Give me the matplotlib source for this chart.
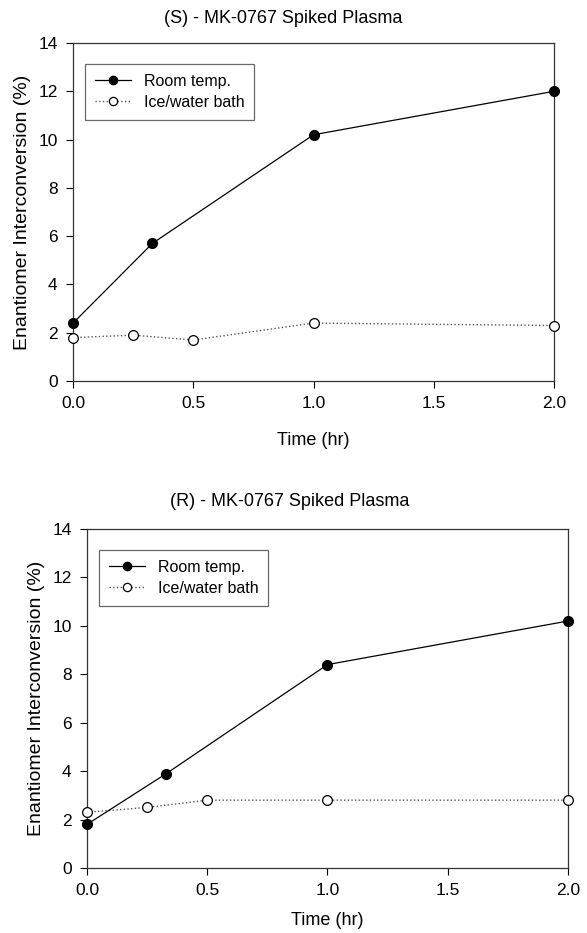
import matplotlib
matplotlib.use('Agg')
import matplotlib.pyplot as plt

plt.rcParams['font.family'] = ['Liberation Sans', 'DejaVu Sans']

# (S) panel
s_room_t = [0.0, 0.33, 1.0, 2.0]
s_room_v = [2.4, 5.7, 10.2, 12.0]
s_ice_t = [0.0, 0.25, 0.5, 1.0, 2.0]
s_ice_v = [1.8, 1.9, 1.7, 2.4, 2.3]

# (R) panel
r_room_t = [0.0, 0.33, 1.0, 2.0]
r_room_v = [1.8, 3.9, 8.4, 10.2]
r_ice_t = [0.0, 0.25, 0.5, 1.0, 2.0]
r_ice_v = [2.3, 2.5, 2.8, 2.8, 2.8]

xticks = [0.0, 0.5, 1.0, 1.5, 2.0]
yticks = [0, 2, 4, 6, 8, 10, 12, 14]

fig = plt.figure(figsize=(5.87, 9.33), dpi=100)
ax1 = fig.add_axes([0.1244, 0.5916, 0.8194, 0.3623])
ax2 = fig.add_axes([0.1482, 0.0697, 0.8194, 0.3633])

panels = [
    (ax1, '(S) - MK-0767 Spiked Plasma', 0.482, 0.980, 15, s_room_t, s_room_v, s_ice_t, s_ice_v),
    (ax2, '(R) - MK-0767 Spiked Plasma', 0.494, 0.462, 10, r_room_t, r_room_v, r_ice_t, r_ice_v),
]

for ax, title, tx, ty, xpad, rt, rv, it, iv in panels:
    ax.plot(it, iv, linestyle=':', color='#555555', linewidth=1.0,
            marker='o', markersize=7, markerfacecolor='white',
            markeredgecolor='black', markeredgewidth=0.9,
            label='Ice/water bath', zorder=3, clip_on=False)
    ax.plot(rt, rv, linestyle='-', color='black', linewidth=0.9,
            marker='o', markersize=7, markerfacecolor='black',
            markeredgecolor='black', label='Room temp.', zorder=4, clip_on=False)
    ax.set_xlim(0, 2.0)
    ax.set_ylim(0, 14)
    ax.set_xticks(xticks)
    ax.set_xticklabels(['%.1f' % x for x in xticks])
    ax.set_yticks(yticks)
    ax.tick_params(direction='out', length=5, width=0.8, labelsize=12.5,
                   top=False, right=False, pad=6)
    for sp in ax.spines.values():
        sp.set_color('#333333')
        sp.set_linewidth(0.9)
    ax.set_xlabel('Time (hr)', fontsize=13, labelpad=xpad)
    ax.set_ylabel('Enantiomer Interconversion (%)', fontsize=14, labelpad=5)
    fig.text(tx, ty, title, fontsize=13, ha='center', va='center')
    h, l = ax.get_legend_handles_labels()
    leg = ax.legend(h[::-1], l[::-1], loc='upper left', bbox_to_anchor=(0.025, 0.938),
                    borderaxespad=0, fontsize=11.5, frameon=True, fancybox=False,
                    edgecolor='#444444', handlelength=2.3, borderpad=0.6,
                    labelspacing=0.4, markerscale=0.85)
    leg.get_frame().set_linewidth(0.9)

fig.savefig('out.png', dpi=100)
